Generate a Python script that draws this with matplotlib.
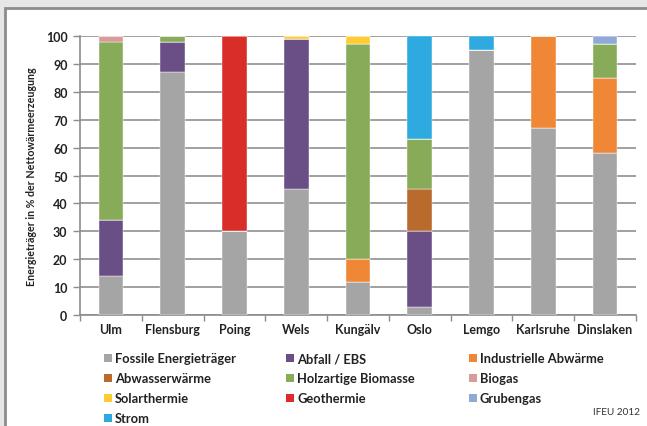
import numpy as np
import matplotlib.pyplot as plt
from matplotlib.patches import Rectangle

plt.rcParams['font.family'] = ['Lato', 'DejaVu Sans']

# Standorte
staedte = ["Ulm", "Flensburg", "Poing", "Wels", "Kungälv", "Oslo", "Lemgo", "Karlsruhe", "Dinslaken"]

# Anteile in % (gestapelt, von unten nach oben)
fossil = [14, 87, 30, 45, 12, 3, 95, 67, 58]
abfall = [20, 11, 0, 54, 0, 27, 0, 0, 0]
industrie = [0, 0, 0, 0, 8, 0, 0, 33, 27]
abwasser = [0, 0, 0, 0, 0, 15, 0, 0, 0]
biomasse = [64, 2, 0, 0, 77, 18, 0, 0, 12]
biogas = [2, 0, 0, 0, 0, 0, 0, 0, 0]
solar = [0, 0, 0, 1, 3, 0, 0, 0, 0]
geothermie = [0, 0, 70, 0, 0, 0, 0, 0, 0]
grubengas = [0, 0, 0, 0, 0, 0, 0, 0, 3]
strom = [0, 0, 0, 0, 0, 37, 5, 0, 0]

serien = [
    ("Fossile Energieträger", fossil, "#A5A5A5"),
    ("Abfall / EBS", abfall, "#6A4F87"),
    ("Industrielle Abwärme", industrie, "#F08736"),
    ("Abwasserwärme", abwasser, "#B86B2C"),
    ("Holzartige Biomasse", biomasse, "#87AB58"),
    ("Biogas", biogas, "#DA9A9A"),
    ("Solarthermie", solar, "#FFCC33"),
    ("Geothermie", geothermie, "#D92E28"),
    ("Grubengas", grubengas, "#8FAAD6"),
    ("Strom", strom, "#2EAAE0"),
]

fig = plt.figure(figsize=(6.47, 4.27), dpi=100)
fig.patch.set_facecolor("#E6E6E6")

# weisser Rahmen
fig.add_artist(Rectangle((5 / 647, -0.01), 1.0, 1 - 9 / 427 + 0.01, transform=fig.transFigure,
                         facecolor="white", edgecolor="#8C8C8C", linewidth=2, zorder=0))

ax = fig.add_axes([80 / 647, 1 - 316 / 427, 556 / 647, 279 / 427])
ax.set_facecolor("white")

x = np.arange(len(staedte))
unten = np.zeros(len(staedte))
for name, werte, farbe in serien:
    werte = np.array(werte, dtype=float)
    ax.bar(x, werte, 0.4, bottom=unten, color=farbe, edgecolor="white", linewidth=0.3, zorder=3)
    unten += werte

ax.set_xlim(-0.5, len(staedte) - 0.5)
ax.set_ylim(0, 100)
ax.set_yticks(range(0, 101, 10))
ax.yaxis.grid(True, color="#A0A0A0", linewidth=1.4, zorder=0)
ax.set_axisbelow(True)
ax.set_xticks(x)
ax.set_xticklabels(staedte, fontsize=9, fontweight="bold", color="#222222")
ax.set_xticks(np.arange(-0.5, len(staedte)), minor=True)
ax.tick_params(axis="x", which="major", length=0, pad=6)
ax.tick_params(axis="x", which="minor", length=4, color="#8C8C8C", width=1)
ax.tick_params(axis="y", length=5, color="#8C8C8C", width=1, labelsize=9, pad=4)
for lbl in ax.get_yticklabels():
    lbl.set_fontweight("bold")
    lbl.set_color("#222222")
for s in ["top", "right"]:
    ax.spines[s].set_visible(False)
for s in ["left", "bottom"]:
    ax.spines[s].set_color("#8C8C8C")
    ax.spines[s].set_linewidth(1.2)

ax.set_ylabel("Energieträger in % der Nettowärmeerzeugung", fontsize=7.7, fontweight="bold",
              color="#222222", labelpad=6)

# Legende (Excel-Stil, zeilenweise)
spalten_x = [104, 286, 469]
zeilen_y = [359, 379, 399, 419]
for i, (name, werte, farbe) in enumerate(serien):
    r, c = divmod(i, 3)
    px, py = spalten_x[c], zeilen_y[r]
    fig.add_artist(Rectangle((px / 647, 1 - (py + 4) / 427), 8 / 647, 8 / 427,
                             transform=fig.transFigure, facecolor=farbe, edgecolor="none"))
    fig.text((px + 11) / 647, 1 - py / 427, name, fontsize=9.3, fontweight="bold",
             color="#222222", va="center", ha="left")

fig.text(640 / 647, 1 - 413 / 427, "IFEU 2012", fontsize=7.2, color="#333333", va="center", ha="right")

fig.savefig("out.png", dpi=100, facecolor=fig.get_facecolor())
